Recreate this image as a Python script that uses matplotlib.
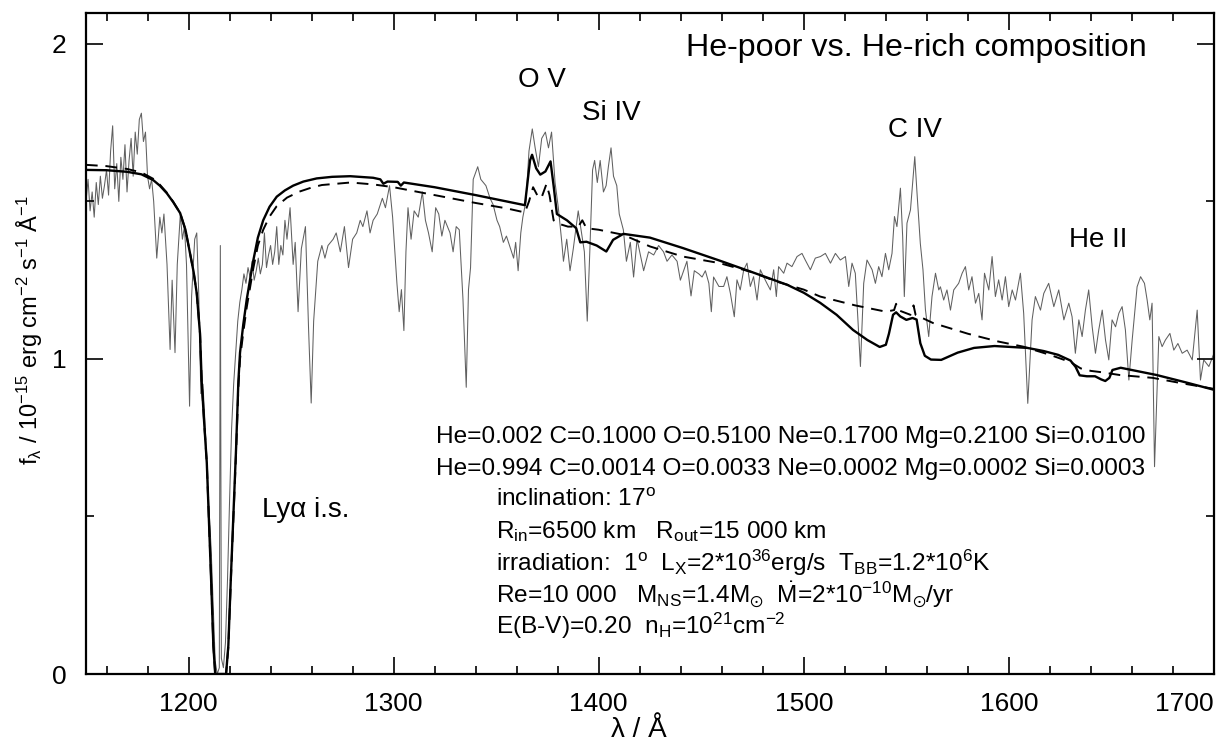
import matplotlib
matplotlib.use("Agg")
import matplotlib.pyplot as plt
from matplotlib.ticker import MultipleLocator

plt.rcParams['font.family'] = ['Liberation Sans', 'DejaVu Sans']
plt.rcParams['mathtext.fontset'] = 'custom'
plt.rcParams['mathtext.rm'] = 'Liberation Sans'
plt.rcParams['mathtext.it'] = 'Liberation Sans'
plt.rcParams['mathtext.bf'] = 'Liberation Sans:bold'
plt.rcParams['mathtext.default'] = 'regular'

# ---------------- data ----------------
obs_wl = [1150, 1151, 1152, 1153, 1154, 1155, 1156, 1157, 1158, 1159, 1160, 1161, 1162, 1163, 1164,
          1165, 1166, 1167, 1168, 1169, 1170, 1171, 1172, 1173, 1174, 1175, 1176, 1177, 1178, 1179,
          1180, 1181, 1182, 1183, 1184.5, 1186, 1187, 1188, 1189.5, 1191, 1192, 1193.4, 1194.5, 1196,
          1197, 1198, 1199, 1200.5, 1201.5, 1203, 1204, 1205, 1206, 1207, 1208, 1209, 1210, 1211, 1212,
          1213, 1214, 1215, 1215.5, 1216, 1217, 1218, 1219, 1220, 1221, 1222, 1223, 1224, 1225, 1226,
          1227, 1228, 1229, 1230, 1231, 1232, 1233, 1234, 1235, 1236, 1237, 1238, 1239, 1240, 1241,
          1242, 1243, 1244, 1245, 1246, 1247, 1248, 1249.5, 1251, 1252, 1253.4, 1255, 1257, 1258.5,
          1259.8, 1261, 1263, 1265, 1266.5, 1268, 1270.5, 1272, 1274, 1276, 1278, 1280, 1282, 1283.7,
          1285, 1287, 1288.5, 1290, 1292, 1294.5, 1296, 1298, 1299.5, 1301.6, 1302.7, 1303.8, 1305,
          1306, 1307, 1308.5, 1310, 1312, 1314, 1315.5, 1317, 1318.8, 1320.5, 1322, 1323.5, 1325,
          1327.5, 1329, 1330.5, 1332, 1333.8, 1335.4, 1336.5, 1337.5, 1338.8, 1341, 1342.5, 1345,
          1347, 1348.5, 1350.4, 1351.7, 1353.5, 1355, 1357, 1358.5, 1359.5, 1360.7, 1362, 1363,
          1364.5, 1366, 1367.6, 1369, 1370.6, 1372.2, 1374, 1375.5, 1377, 1378.7, 1380.3, 1382,
          1382.8, 1384.4, 1386, 1387.6, 1390, 1391.6, 1393, 1394.4, 1395.7, 1397, 1398, 1399.3,
          1400.7, 1402.3, 1403.6, 1404.7, 1406, 1407.2, 1408.8, 1410, 1412, 1413.5, 1415.4, 1417,
          1418.7, 1420.3, 1421.9, 1424.3, 1426.8, 1429.2, 1431.6, 1433.3, 1435.7, 1438.2, 1439.8,
          1441.4, 1443, 1445, 1446.6, 1448.8, 1450.4, 1452, 1453.7, 1454.9, 1456, 1458.6,
          1460.9, 1462.5, 1464.2, 1466.1, 1467.4, 1469.0, 1470.7, 1472.3, 1473.9, 1475.5, 1477.2,
          1478.8, 1480.4, 1482.0, 1483.7, 1485.3, 1486.6, 1487.7, 1490.2, 1491.8, 1494.2, 1496.7,
          1499.1, 1500.7, 1503.2, 1505.6, 1508.1, 1510.5, 1513.0, 1515.4, 1517.8, 1520.3, 1521.9,
          1523.5, 1525.1, 1526.3, 1527.6, 1529.2, 1530.8, 1533.3, 1534.9, 1536.5, 1538.1, 1539.8,
          1541.4, 1543.0, 1544.2, 1545.4, 1547.1, 1548.2, 1549.0, 1550.3, 1552.0, 1553.3, 1554.1,
          1555.2, 1556.8, 1558.1, 1559.3, 1560.9, 1562.5, 1564.2, 1565.8, 1566.6, 1568.2, 1569.8,
          1571.5, 1573.1, 1575.5, 1577.2, 1578.8, 1580.4, 1582.0, 1583.7, 1585.3, 1586.9, 1588.1,
          1590.2, 1591.8, 1593.4, 1595.0, 1596.7, 1598.3, 1599.9, 1601.6, 1603.2, 1605.6, 1607.2,
          1609.2, 1611.3, 1612.9, 1615.4, 1617.0, 1619.4, 1621.9, 1624.3, 1626.8, 1629.2, 1630.8,
          1632.4, 1634.1, 1635.7, 1637.3, 1638.9, 1640.6, 1642.2, 1643.8, 1645.5, 1647.1, 1648.7,
          1650.3, 1652.0, 1653.6, 1655.2, 1656.8, 1658.5, 1660.1, 1662.5, 1664.2, 1666.1, 1667.4,
          1668.7, 1669.8, 1671.0, 1673.1, 1674.7, 1676.3, 1678.5, 1680.4, 1682.4, 1684.5, 1686.9,
          1689.4, 1691.8, 1693.4, 1695.0, 1697.5, 1700.0]
obs_flux = [1.50, 1.57, 1.47, 1.53, 1.45, 1.56, 1.49, 1.58, 1.51, 1.55, 1.60, 1.52, 1.66, 1.74, 1.54,
            1.62, 1.50, 1.64, 1.57, 1.68, 1.53, 1.63, 1.70, 1.58, 1.72, 1.65, 1.76, 1.78, 1.69, 1.72,
            1.58, 1.54, 1.57, 1.50, 1.32, 1.45, 1.40, 1.46, 1.30, 1.03, 1.25, 1.02, 1.30, 1.46,
            1.38, 1.42, 1.30, 0.85, 1.20, 1.38, 1.40, 1.20, 0.89, 0.92, 0.80, 0.66, 0.52, 0.40, 0.22,
            0.04, 0.00, 0.02, 1.36, 0.05, 0.02, 0.10, 0.30, 0.55, 0.78, 0.92, 1.02, 1.12, 1.18, 1.22,
            1.27, 1.24, 1.29, 1.26, 1.31, 1.25, 1.28, 1.32, 1.27, 1.30, 1.40, 1.29, 1.33, 1.36, 1.30,
            1.34, 1.42, 1.30, 1.36, 1.33, 1.44, 1.38, 1.48, 1.30, 1.37, 1.15, 1.35, 1.42, 1.10,
            0.86, 1.12, 1.31, 1.36, 1.32, 1.36, 1.38, 1.40, 1.34, 1.42, 1.29, 1.38, 1.40, 1.44,
            1.42, 1.47, 1.40, 1.44, 1.46, 1.51, 1.48, 1.55, 1.45, 1.24, 1.15, 1.22, 1.09,
            1.34, 1.48, 1.38, 1.47, 1.45, 1.53, 1.44, 1.40, 1.34, 1.48, 1.46, 1.39, 1.44,
            1.40, 1.34, 1.42, 1.41, 1.19, 0.91, 1.22, 1.29, 1.57, 1.61, 1.57, 1.55,
            1.51, 1.49, 1.44, 1.42, 1.37, 1.39, 1.35, 1.32, 1.37, 1.28, 1.40, 1.45,
            1.50, 1.66, 1.73, 1.67, 1.61, 1.70, 1.72, 1.67, 1.72, 1.56, 1.48, 1.37,
            1.31, 1.38, 1.28, 1.35, 1.47, 1.40, 1.34, 1.12, 1.35, 1.60, 1.63, 1.56,
            1.63, 1.53, 1.55, 1.61, 1.67, 1.58, 1.55, 1.46, 1.41, 1.31, 1.37, 1.26,
            1.38, 1.33, 1.28, 1.34, 1.33, 1.36, 1.34, 1.31, 1.33, 1.31, 1.25,
            1.28, 1.31, 1.20, 1.28, 1.27, 1.26, 1.28, 1.24, 1.15, 1.26, 1.23,
            1.230, 1.261, 1.208, 1.134, 1.251, 1.219, 1.283, 1.304, 1.230, 1.261, 1.187,
            1.283, 1.261, 1.240, 1.219, 1.283, 1.198, 1.293, 1.272, 1.304, 1.293, 1.325,
            1.335, 1.314, 1.283, 1.320, 1.325, 1.335, 1.304, 1.335, 1.314, 1.325, 1.230,
            1.304, 1.272, 1.134, 0.976, 1.240, 1.314, 1.283, 1.240, 1.293, 1.261, 1.335,
            1.283, 1.335, 1.452, 1.420, 1.542, 1.388, 1.198, 1.431, 1.473, 1.579, 1.642,
            1.526, 1.367, 1.283, 1.156, 1.071, 1.198, 1.272, 1.219, 1.229, 1.187, 1.219,
            1.155, 1.219, 1.240, 1.272, 1.293, 1.219, 1.261, 1.177, 1.208, 1.124, 1.272,
            1.219, 1.325, 1.198, 1.251, 1.187, 1.261, 1.166, 1.219, 1.187, 1.272, 1.145,
            0.859, 1.124, 1.198, 1.155, 1.208, 1.240, 1.166, 1.219, 1.124, 1.177, 1.134,
            1.018, 1.124, 1.071, 1.155, 1.219, 1.102, 1.018, 1.092, 1.155, 1.060, 0.997,
            1.124, 1.102, 1.145, 1.166, 1.092, 0.933, 1.060, 1.229, 1.261, 1.240, 1.187,
            1.124, 1.177, 0.658, 1.071, 1.039, 1.060, 1.081, 1.028, 1.049, 1.018, 1.028,
            0.997, 1.155, 0.933, 0.997, 0.976, 1.018]

hepoor_wl = [1150, 1160, 1170, 1177, 1182.7, 1186, 1189.4, 1192.5, 1195.9, 1198.5, 1200.7, 1202.5,
             1204, 1205.6, 1206.4, 1207.6, 1208.9,
             1211, 1212.1, 1213, 1218.3, 1219.4, 1220.6, 1221.9, 1223.2, 1224.3, 1225.1, 1226.7,
             1228.4, 1231.5, 1233.8, 1236.4, 1239.5, 1243, 1247, 1251, 1256, 1262.5, 1270, 1278.8,
             1290, 1293.5, 1295, 1297, 1302, 1303.5,
             1305, 1320, 1340, 1355, 1364, 1366.5, 1367.5, 1369.5, 1371.5, 1374,
             1376.5, 1378, 1379.6, 1384.5, 1389, 1391, 1394, 1399, 1403.7, 1407, 1412, 1425, 1441,
             1459, 1475, 1492, 1500, 1508, 1516, 1524, 1531, 1537, 1540, 1541.5, 1543.5, 1545, 1547,
             1550, 1553, 1555, 1556.8, 1559, 1562, 1567, 1575, 1583, 1593, 1609, 1617, 1624, 1630,
             1632.5, 1634.5, 1638, 1642, 1645, 1647, 1649, 1650.5, 1654.5, 1672, 1686, 1700]
hepoor_flux = [1.600, 1.599, 1.594, 1.586, 1.568, 1.550, 1.526, 1.498, 1.463, 1.410, 1.336, 1.275,
               1.208, 1.080, 0.930, 0.800, 0.670,
               0.300, 0.090, 0.000, 0.000, 0.090, 0.300, 0.510, 0.720, 0.930, 1.020, 1.110,
               1.190, 1.310, 1.385, 1.440, 1.483, 1.515, 1.535, 1.550, 1.563, 1.573, 1.578, 1.580,
               1.575, 1.570, 1.556, 1.563, 1.562, 1.550,
               1.560, 1.545, 1.520, 1.500,
               1.488, 1.630, 1.648, 1.605, 1.585, 1.595, 1.627, 1.550, 1.460, 1.440, 1.415, 1.370,
               1.372, 1.360, 1.341, 1.378, 1.397, 1.385, 1.352, 1.312, 1.275, 1.235, 1.210, 1.178,
               1.140, 1.092, 1.060, 1.038, 1.045, 1.080, 1.140, 1.148, 1.135, 1.124, 1.130, 1.125,
               1.050, 1.010, 0.998, 0.997, 1.020, 1.035, 1.041, 1.035, 1.025, 1.013, 0.995, 0.975,
               0.948, 0.945, 0.945, 0.935, 0.930, 0.940, 0.965, 0.972, 0.949, 0.926, 0.902]

herich_wl = [1150, 1160, 1170, 1177, 1182.7, 1186, 1189.4, 1192.5, 1195.9, 1198.5, 1200.7, 1202.5,
             1204, 1205.6, 1206.4, 1207.6, 1208.9,
             1211, 1212.1, 1213, 1218.3, 1219.4, 1220.6, 1221.9, 1223.2, 1224.3, 1225.1, 1226.7,
             1228.4, 1231.5, 1233.8, 1236.4, 1239.5, 1243, 1248, 1254, 1260, 1265, 1279, 1290,
             1300, 1320,
             1340, 1355, 1364, 1366, 1368, 1370, 1372, 1374.5, 1376, 1378, 1380, 1385, 1390, 1392,
             1394, 1400, 1412, 1425, 1441, 1459, 1475, 1487, 1500, 1508, 1525, 1540, 1544, 1545,
             1546, 1552, 1553.5, 1554.5, 1563, 1580, 1595, 1607, 1620, 1630, 1635, 1640, 1645, 1654,
             1670, 1685, 1700]
herich_flux = [1.616, 1.612, 1.603, 1.592, 1.572, 1.553, 1.528, 1.499, 1.463, 1.410, 1.336, 1.275,
               1.208, 1.080, 0.930, 0.800, 0.670,
               0.300, 0.090, 0.000, 0.000, 0.085, 0.290, 0.500, 0.705, 0.910, 1.000, 1.085,
               1.165, 1.285, 1.360, 1.410, 1.452, 1.485, 1.512, 1.531, 1.544, 1.552, 1.560, 1.554,
               1.545, 1.520,
               1.495, 1.478, 1.465, 1.500, 1.545, 1.520, 1.510,
               1.555, 1.520, 1.440, 1.430, 1.420, 1.420, 1.440, 1.415, 1.410, 1.394, 1.357, 1.325,
               1.304, 1.275, 1.245, 1.220, 1.198, 1.170, 1.150, 1.155, 1.175, 1.155, 1.140, 1.170,
               1.140, 1.114, 1.080, 1.055, 1.039, 1.013, 0.990, 0.970, 0.962, 0.958, 0.949, 0.940,
               0.922, 0.905]

xticks = [1200, 1300, 1400, 1500, 1600, 1700]
yticks = [0, 1, 2]

# ---------------- figure ----------------
W, H = 1219, 741
fig = plt.figure(figsize=(W / 100, H / 100), dpi=100)
ax = fig.add_axes([86 / W, 1 - 674 / H, (1214 - 86) / W, (674 - 13) / H])

ax.plot(obs_wl, obs_flux, color='#606060', lw=0.75, zorder=1)
ax.plot(herich_wl, herich_flux, color='black', lw=1.4, ls=(0, (6, 4)), zorder=2)
ax.plot(hepoor_wl, hepoor_flux, color='black', lw=1.7, zorder=3)

ax.set_xlim(1150, 1700)
ax.set_ylim(0, 2.098)
ax.set_xticks(xticks)
ax.set_yticks(yticks)
ax.xaxis.set_minor_locator(MultipleLocator(20))
ax.yaxis.set_minor_locator(MultipleLocator(0.5))
ax.tick_params(which='both', direction='in', top=True, right=True, width=1.2, labelsize=19)
ax.tick_params(which='major', length=12.5)
ax.tick_params(which='minor', length=6)
ax.tick_params(axis='x', pad=13)
ax.tick_params(axis='y', pad=14)
for s in ax.spines.values():
    s.set_linewidth(1.6)
labs = ax.get_xticklabels()
labs[-1].set_horizontalalignment('right')

ax.set_xlabel('λ / Å', fontsize=20)
ax.xaxis.set_label_coords(0.49, -0.065)
fig.text(30 / W, 1 - 330 / H,
         r'f$_\lambda$ / 10$^{-15}$ erg cm$^{-2}$ s$^{-1}$ Å$^{-1}$',
         fontsize=17, rotation=90, ha='center', va='center')

ax.text(1555, 1.987, 'He-poor vs. He-rich composition', fontsize=23.2, ha='center', va='center')
ax.text(1372.4, 1.886, 'O V', fontsize=20, ha='center', va='center')
ax.text(1406, 1.78, 'Si IV', fontsize=20, ha='center', va='center')
ax.text(1554, 1.727, 'C IV', fontsize=20, ha='center', va='center')
ax.text(1643.7, 1.378, 'He II', fontsize=20, ha='center', va='center')
ax.text(1257, 0.52, 'Lyα i.s.', fontsize=20, ha='center', va='center')

rows = [
    'He=0.002 C=0.1000 O=0.5100 Ne=0.1700 Mg=0.2100 Si=0.0100',
    'He=0.994 C=0.0014 O=0.0033 Ne=0.0002 Mg=0.0002 Si=0.0003',
    'inclination: 17$^{o}$',
    r'R$_{\rm in}$=6500 km   R$_{\rm out}$=15 000 km',
    r'irradiation:  1$^{o}$  L$_{X}$=2*10$^{36}$erg/s  T$_{BB}$=1.2*10$^{6}$K',
    r'Re=10 000   M$_{NS}$=1.4M$_{\odot}$  $\dot{M}$=2*10$^{-10}$M$_{\odot}$/yr',
    r'E(B-V)=0.20  n$_{H}$=10$^{21}$cm$^{-2}$',
]
row_x = [436, 436, 496, 496, 496, 496, 496]
for i, (t, px) in enumerate(zip(rows, row_x)):
    py = 437 + 31.5 * i
    fig.text(px / W, 1 - py / H, t, fontsize=17.6, ha='left', va='center')

fig.savefig('out.png', dpi=100)
